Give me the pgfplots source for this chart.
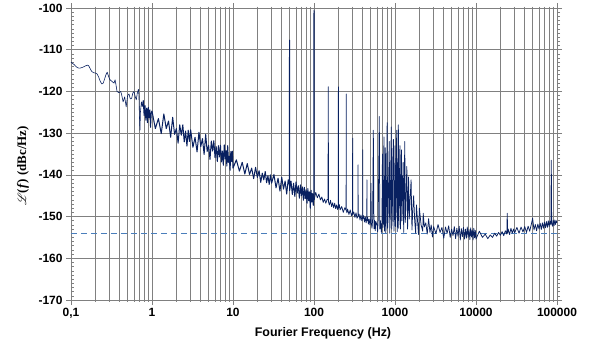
\documentclass[border=0pt]{standalone}
\usepackage{pgfplots}
\usepackage{pgfplotstable}
\usepackage{mathrsfs}
\usepackage{fontspec}
\setmainfont{Liberation Sans}
\newfontfamily\tnr{Liberation Serif}
\pgfplotsset{compat=1.18}
\definecolor{trace}{RGB}{8,32,96}
\definecolor{floorline}{RGB}{74,126,187}
\definecolor{gridgray}{RGB}{128,128,128}

% 0.1 Hz to 0.76 Hz
\pgfplotstableread[row sep=\\]{
f L\\
0.100 -113.0\\ 0.105 -113.3\\ 0.110 -113.6\\ 0.115 -114.0\\ 0.120 -114.3\\ 0.125 -114.4\\ 0.130 -114.4\\ 0.140 -114.2\\
0.150 -113.9\\ 0.160 -113.7\\ 0.165 -113.8\\ 0.170 -114.3\\ 0.180 -115.2\\ 0.190 -115.5\\ 0.200 -115.6\\ 0.210 -115.8\\
0.220 -116.6\\ 0.230 -117.6\\ 0.240 -118.2\\ 0.250 -118.0\\ 0.260 -117.0\\ 0.270 -116.0\\ 0.280 -115.4\\ 0.290 -116.3\\
0.300 -117.1\\ 0.320 -117.6\\ 0.340 -118.0\\ 0.350 -117.2\\ 0.360 -118.5\\ 0.370 -120.0\\ 0.390 -120.3\\ 0.410 -120.0\\
0.420 -120.6\\ 0.440 -122.5\\ 0.460 -121.3\\ 0.480 -123.7\\ 0.500 -121.0\\ 0.520 -120.6\\ 0.540 -121.8\\ 0.560 -121.7\\
0.580 -120.4\\ 0.600 -120.0\\ 0.620 -121.2\\ 0.640 -122.0\\ 0.660 -120.3\\ 0.680 -119.5\\ 0.690 -121.0\\ 0.700 -126.0\\
0.710 -129.3\\ 0.720 -125.0\\ 0.740 -122.5\\ 0.760 -123.6\\
}\lowband

% 0.76 Hz to 100 Hz (dense noise)
\pgfplotstableread[row sep=\\]{
f L\\
0.760 -123.6\\
0.78 -122.2\\ 0.80 -125.8\\ 0.82 -123.4\\ 0.84 -126.9\\ 0.86 -124.0\\ 0.88 -127.5\\ 0.90 -123.8\\ 0.92 -126.3\\
0.94 -124.4\\ 0.96 -128.6\\ 0.98 -125.0\\
1.0 -124.7\\ 1.1 -128.9\\ 1.2 -126.5\\ 1.3 -130.1\\ 1.4 -125.4\\ 1.5 -128.9\\ 1.6 -127.1\\ 1.7 -131.0\\
1.8 -126.2\\ 1.9 -130.3\\ 2.0 -128.9\\ 2.1 -132.4\\ 2.2 -128.0\\ 2.3 -130.5\\ 2.4 -128.0\\ 2.5 -132.1\\
2.6 -129.5\\ 2.7 -133.1\\ 2.8 -129.3\\ 2.9 -132.0\\ 3.0 -129.2\\
3.2 -133.4\\ 3.4 -131.0\\ 3.6 -134.5\\ 3.8 -129.8\\ 4.0 -133.2\\ 4.2 -131.3\\ 4.4 -135.1\\ 4.6 -130.3\\
4.8 -134.4\\ 5.0 -132.9\\ 5.2 -136.3\\ 5.4 -131.9\\ 5.6 -134.3\\ 5.8 -131.8\\ 6.0 -135.9\\ 6.2 -133.2\\
6.4 -136.8\\ 6.6 -133.0\\ 6.8 -135.7\\ 7.0 -132.9\\ 7.2 -136.9\\ 7.4 -134.3\\ 7.6 -137.7\\ 7.8 -132.8\\
8.0 -136.2\\ 8.2 -134.2\\ 8.4 -137.9\\ 8.6 -133.0\\ 8.8 -137.0\\ 9.0 -135.5\\ 9.2 -138.9\\ 9.4 -134.4\\
9.6 -136.8\\ 9.8 -134.3\\ 10.0 -138.4\\
11 -136.4\\ 12 -139.1\\ 13 -137.0\\ 14 -139.8\\ 15 -137.3\\ 16 -139.9\\ 17 -138.4\\ 18 -140.9\\
19 -138.2\\ 20 -140.6\\ 21 -139.0\\ 22 -141.8\\ 23 -139.6\\ 24 -141.2\\ 25 -139.2\\ 26 -141.9\\
27 -140.2\\ 28 -142.3\\ 29 -140.0\\ 30 -142.0\\
32 -139.9\\ 34 -143.1\\ 36 -140.8\\ 38 -143.9\\ 40 -140.6\\ 42 -143.4\\ 44 -141.5\\ 46 -144.6\\
48 -141.2\\ 49.7 -142.5\\ 49.85 -107.7\\ 50.0 -143.8\\ 52 -141.5\\ 54 -144.7\\ 56 -142.0\\ 58 -145.2\\
60 -141.7\\ 62 -144.4\\ 64 -142.6\\ 66 -145.6\\ 68 -142.4\\ 70 -145.0\\ 72 -142.9\\ 74 -146.1\\
76 -143.0\\ 78 -145.7\\ 80 -143.6\\ 82 -146.8\\ 84 -143.3\\ 86 -146.2\\ 88 -144.1\\ 90 -148.0\\
92 -143.7\\ 94 -146.5\\ 96 -144.5\\ 98 -147.3\\ 99.5 -145.0\\ 100 -100.5\\ 100.5 -146.0\\
}\midband

% 100 Hz to 100 kHz
\pgfplotstableread[row sep=\\]{
f L\\
100.5 -146.0\\
105 -144.2\\ 110 -145.5\\ 115 -144.6\\ 120 -146.0\\ 125 -145.3\\ 130 -146.6\\ 135 -145.8\\ 140 -146.8\\
145 -145.9\\ 149 -146.0\\ 150 -118.9\\ 151 -146.5\\ 155 -147.2\\ 160 -146.1\\ 165 -147.6\\ 170 -146.7\\
175 -147.9\\ 180 -146.8\\ 185 -148.1\\ 190 -147.2\\ 195 -148.3\\ 199 -147.5\\ 200 -118.9\\ 201 -148.0\\
205 -147.1\\ 210 -148.4\\ 220 -147.6\\ 230 -149.0\\ 240 -147.9\\ 249 -148.5\\ 250 -120.6\\ 251 -148.5\\
255 -149.1\\ 260 -148.2\\ 270 -149.5\\ 280 -148.4\\ 290 -149.8\\ 299 -149.0\\ 300 -131.2\\ 301 -149.5\\
310 -148.9\\ 320 -150.2\\ 330 -149.1\\ 340 -150.4\\ 349 -150.0\\ 350 -137.6\\ 351 -150.0\\
360 -149.4\\ 370 -150.8\\ 380 -149.6\\ 390 -151.0\\ 399 -150.0\\ 400 -134.0\\ 401 -150.5\\
410 -149.8\\ 420 -151.3\\ 430 -150.1\\ 440 -151.5\\ 449 -150.5\\ 450 -141.2\\ 451 -151.0\\
460 -150.2\\ 470 -151.8\\ 480 -150.6\\ 490 -152.0\\ 500 -150.8\\ 505 -142.0\\ 510 -151.5\\ 520 -152.8\\
530 -150.6\\ 540 -129.3\\ 550 -152.9\\ 560 -150.9\\ 570 -153.4\\ 580 -151.2\\ 600 -152.0\\
610 -153.6\\ 620 -150.8\\ 640 -126.0\\ 650 -153.0\\ 660 -151.0\\ 680 -153.8\\ 690 -151.3\\
700 -135.0\\ 710 -152.6\\ 720 -150.5\\ 730 -130.9\\ 740 -153.5\\ 750 -151.0\\ 760 -133.5\\ 770 -153.9\\
780 -150.7\\ 800 -127.5\\ 810 -152.8\\ 820 -150.9\\ 850 -132.0\\ 860 -154.0\\
870 -151.2\\ 900 -128.5\\ 910 -153.0\\ 925 -150.6\\ 940 -136.0\\ 955 -131.5\\ 970 -153.5\\
985 -150.2\\ 1000 -133.0\\ 1015 -152.4\\ 1050 -129.3\\ 1065 -153.6\\ 1080 -150.5\\ 1100 -128.0\\
1115 -152.8\\ 1150 -133.0\\ 1170 -153.0\\ 1185 -146.0\\ 1200 -134.0\\ 1220 -151.0\\
1260 -137.0\\ 1280 -153.8\\ 1300 -144.0\\ 1320 -132.0\\ 1340 -151.4\\ 1400 -138.0\\ 1430 -153.0\\
1470 -140.5\\ 1500 -150.6\\ 1540 -145.5\\ 1580 -141.2\\ 1620 -153.2\\ 1660 -148.0\\ 1700 -145.0\\ 1750 -151.0\\
1800 -154.0\\ 1840 -147.2\\ 1900 -151.2\\ 1950 -154.3\\ 2000 -148.0\\ 2100 -152.0\\ 2200 -153.5\\ 2230 -149.2\\
2300 -152.5\\ 2400 -151.5\\ 2500 -154.2\\ 2600 -150.5\\
2700 -153.8\\ 2800 -152.0\\ 2900 -154.9\\ 3000 -152.4\\ 3200 -154.1\\ 3400 -151.9\\ 3600 -153.8\\ 3800 -152.6\\
4000 -155.2\\ 4200 -152.5\\ 4400 -154.0\\ 4600 -152.2\\ 4800 -155.0\\ 5000 -153.0\\ 5200 -154.6\\ 5400 -152.4\\
5600 -155.3\\ 5800 -152.8\\ 6000 -154.7\\ 6200 -152.3\\ 6400 -155.6\\ 6600 -152.9\\ 6800 -154.8\\ 7000 -152.6\\
7200 -155.4\\ 7400 -153.0\\ 7600 -155.2\\ 7800 -152.5\\ 8000 -155.0\\ 8200 -153.1\\ 8400 -155.5\\ 8600 -152.7\\
8800 -154.9\\ 9000 -153.2\\ 9200 -155.6\\ 9400 -152.8\\ 9600 -155.1\\ 9800 -153.3\\ 10000 -155.4\\
11000 -153.5\\ 12000 -155.0\\ 13000 -154.2\\ 14000 -155.3\\ 15000 -154.4\\ 16000 -155.0\\ 17000 -154.0\\ 18000 -154.7\\
19000 -153.8\\ 20000 -154.5\\ 21000 -153.6\\ 22000 -154.6\\ 23000 -153.4\\ 24000 -154.2\\ 24300 -149.2\\ 24600 -154.0\\
25000 -153.0\\ 26000 -154.3\\ 27000 -152.8\\ 28000 -154.0\\ 29000 -153.0\\ 30000 -153.9\\ 32000 -152.6\\ 34000 -154.0\\
36000 -152.5\\ 38000 -153.7\\ 40000 -152.4\\ 42000 -153.8\\ 44000 -152.3\\ 46000 -153.5\\ 48000 -152.0\\ 50000 -150.4\\
52000 -153.2\\ 54000 -151.9\\ 56000 -153.4\\ 58000 -151.8\\ 60000 -153.0\\ 62000 -151.6\\ 64000 -153.1\\ 66000 -151.5\\
68000 -152.8\\ 70000 -151.3\\ 72000 -152.7\\ 74000 -151.2\\ 76000 -152.6\\ 78000 -151.0\\ 80000 -152.4\\ 82000 -151.1\\
84000 -152.0\\ 85000 -136.5\\ 86000 -151.5\\ 88000 -152.3\\ 90000 -150.9\\ 92000 -152.2\\ 94000 -150.8\\ 96000 -151.9\\
98000 -151.0\\ 100000 -151.5\\
}\highband

\begin{document}
\begin{tikzpicture}
\begin{axis}[
  name=ax,
  scale only axis,
  width=486bp, height=292bp,
  xmode=log,
  xmin=0.1, xmax=100000,
  ymin=-170, ymax=-100,
  xtick={0.1,1,10,100,1000,10000,100000},
  xticklabels={{0,1},1,10,100,1000,10000,100000},
  ytick={-170,-160,-150,-140,-130,-120,-110,-100},
  yticklabels={-170,-160,-150,-140,-130,-120,-110,-100},
  minor y tick num=9,
  xmajorgrids, xminorgrids, ymajorgrids,
  major grid style={gridgray, line width=0.6pt},
  minor grid style={gridgray, line width=0.6pt},
  axis line style={gridgray, line width=0.6pt},
  tick align=center,
  major tick length=10bp,
  minor tick length=3bp,
  every tick/.style={gridgray, line width=0.6pt},
  minor y tick style={xshift=1.5bp},
  tick label style={font=\fontsize{12}{14}\selectfont\bfseries},
  every axis x label/.style={at={(axis description cs:0.5185,-0.113)}, anchor=center},
  every axis y label/.style={at={(axis description cs:-0.099,0.459)}, rotate=90, anchor=center},
  xlabel={\fontsize{12.5}{14}\selectfont\bfseries Fourier Frequency (Hz)},
  ylabel={\fontsize{13}{15}\selectfont\tnr\bfseries $\mathscr{L}$(\textit{f}) (dBc/Hz)},
]
\addplot[floorline, line width=1.3pt, dash pattern=on 6bp off 4bp] coordinates {(0.1,-154) (100000,-154)};
\addplot[trace, line width=0.6pt, line join=round] table[x=f, y=L] {\lowband};
\addplot[trace, line width=1.0pt, line join=round] table[x=f, y=L] {\midband};
\addplot[trace, line width=0.75pt, line join=round] table[x=f, y=L] {\highband};
\end{axis}
\path ([shift={(-71bp,-49bp)}]ax.south west) rectangle ([shift={(38bp,8bp)}]ax.north east);
\end{tikzpicture}
\end{document}
